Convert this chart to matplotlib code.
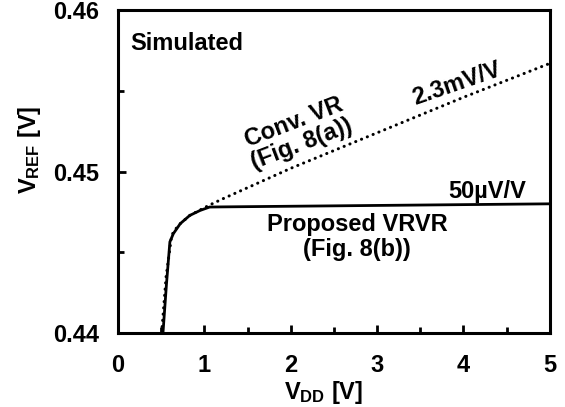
import matplotlib
matplotlib.use("Agg")
import matplotlib.pyplot as plt

# ======================================================
# Data
# ======================================================

VDD_PROPOSED = [0.52, 0.56, 0.60, 0.64, 0.72, 0.83, 0.95, 1.06, 1.20, 5.00]
VREF_PROPOSED = [0.4400, 0.4430, 0.44564, 0.44615, 0.44677, 0.44728,
                 0.44759, 0.44780, 0.44781, 0.44800]

VDD_CONV = [0.505, 0.556, 0.582, 0.621, 0.66, 0.72, 0.83, 0.95, 1.05,
            1.20, 2.0, 3.0, 4.0, 5.0]
VREF_CONV = [0.4400, 0.44348, 0.44451, 0.44605, 0.44640, 0.44677, 0.44728,
             0.44762, 0.44790, 0.44828, 0.45020, 0.45240, 0.45460, 0.45670]

X_TICKS = [0, 1, 2, 3, 4, 5]
Y_TICKS = [0.44, 0.45, 0.46]
Y_TICK_LABELS = ["0.44", "0.45", "0.46"]

# ======================================================
# Style
# ======================================================

FONT = "Liberation Sans"
FS = 17

plt.rcParams["font.family"] = [FONT, "DejaVu Sans"]
plt.rcParams["font.weight"] = "bold"
plt.rcParams["mathtext.fontset"] = "custom"
plt.rcParams["mathtext.rm"] = "Liberation Sans:bold"
plt.rcParams["mathtext.bf"] = "Liberation Sans:bold"
plt.rcParams["mathtext.it"] = "Liberation Sans:bold"

# ======================================================
# Plot
# ======================================================

fig = plt.figure(figsize=(5.65, 4.07), dpi=100)
ax = fig.add_axes([0.209, 0.182, 0.764, 0.793])

ax.plot(VDD_PROPOSED, VREF_PROPOSED, color="black", lw=2.0,
        solid_capstyle="butt")
ax.plot(VDD_CONV, VREF_CONV, color="black", lw=2.2,
        linestyle=(0, (0.05, 2.0)), dash_capstyle="round")

ax.set_xlim(0, 5)
ax.set_ylim(0.44, 0.46)

ax.set_xticks(X_TICKS)
ax.set_xticks([0.5, 1.5, 2.5, 3.5, 4.5], minor=True)
ax.set_yticks(Y_TICKS)
ax.set_yticklabels(Y_TICK_LABELS)
ax.set_yticks([0.445, 0.455], minor=True)

for s in ax.spines.values():
    s.set_linewidth(2.2)

ax.tick_params(which="both", direction="in", top=False, right=False,
               width=2.0, labelsize=FS)
ax.tick_params(axis="y", which="major", length=6, pad=14)
ax.tick_params(axis="x", which="major", length=6, pad=15)
ax.tick_params(which="minor", length=4)

for lab in ax.get_xticklabels() + ax.get_yticklabels():
    lab.set_fontweight("bold")

ax.set_xlabel(r"V$_{\mathregular{DD}}$ [V]", fontsize=FS, fontweight="bold")
ax.set_ylabel(r"V$_{\mathregular{REF}}$ [V]", fontsize=FS, fontweight="bold")
ax.xaxis.set_label_coords(0.477, -0.142)
ax.yaxis.set_label_coords(-0.175, 0.567)

# Annotations
ax.text(0.14, 0.45796, "Simulated", fontsize=FS, fontweight="bold",
        ha="left", va="center")
ax.text(2.08, 0.45235, "Conv. VR\n(Fig. 8(a))", fontsize=FS,
        fontweight="bold", ha="center", va="center", rotation=21,
        multialignment="center", linespacing=1.0)
ax.text(3.92, 0.45545, "2.3mV/V", fontsize=FS, fontweight="bold",
        ha="center", va="center", rotation=19)
ax.text(4.28, 0.44877, "50µV/V", fontsize=FS, fontweight="bold",
        ha="center", va="center")
ax.text(2.77, 0.44593, "Proposed VRVR\n(Fig. 8(b))", fontsize=FS,
        fontweight="bold", ha="center", va="center",
        multialignment="center", linespacing=1.1)

fig.savefig("out.png", dpi=100)
